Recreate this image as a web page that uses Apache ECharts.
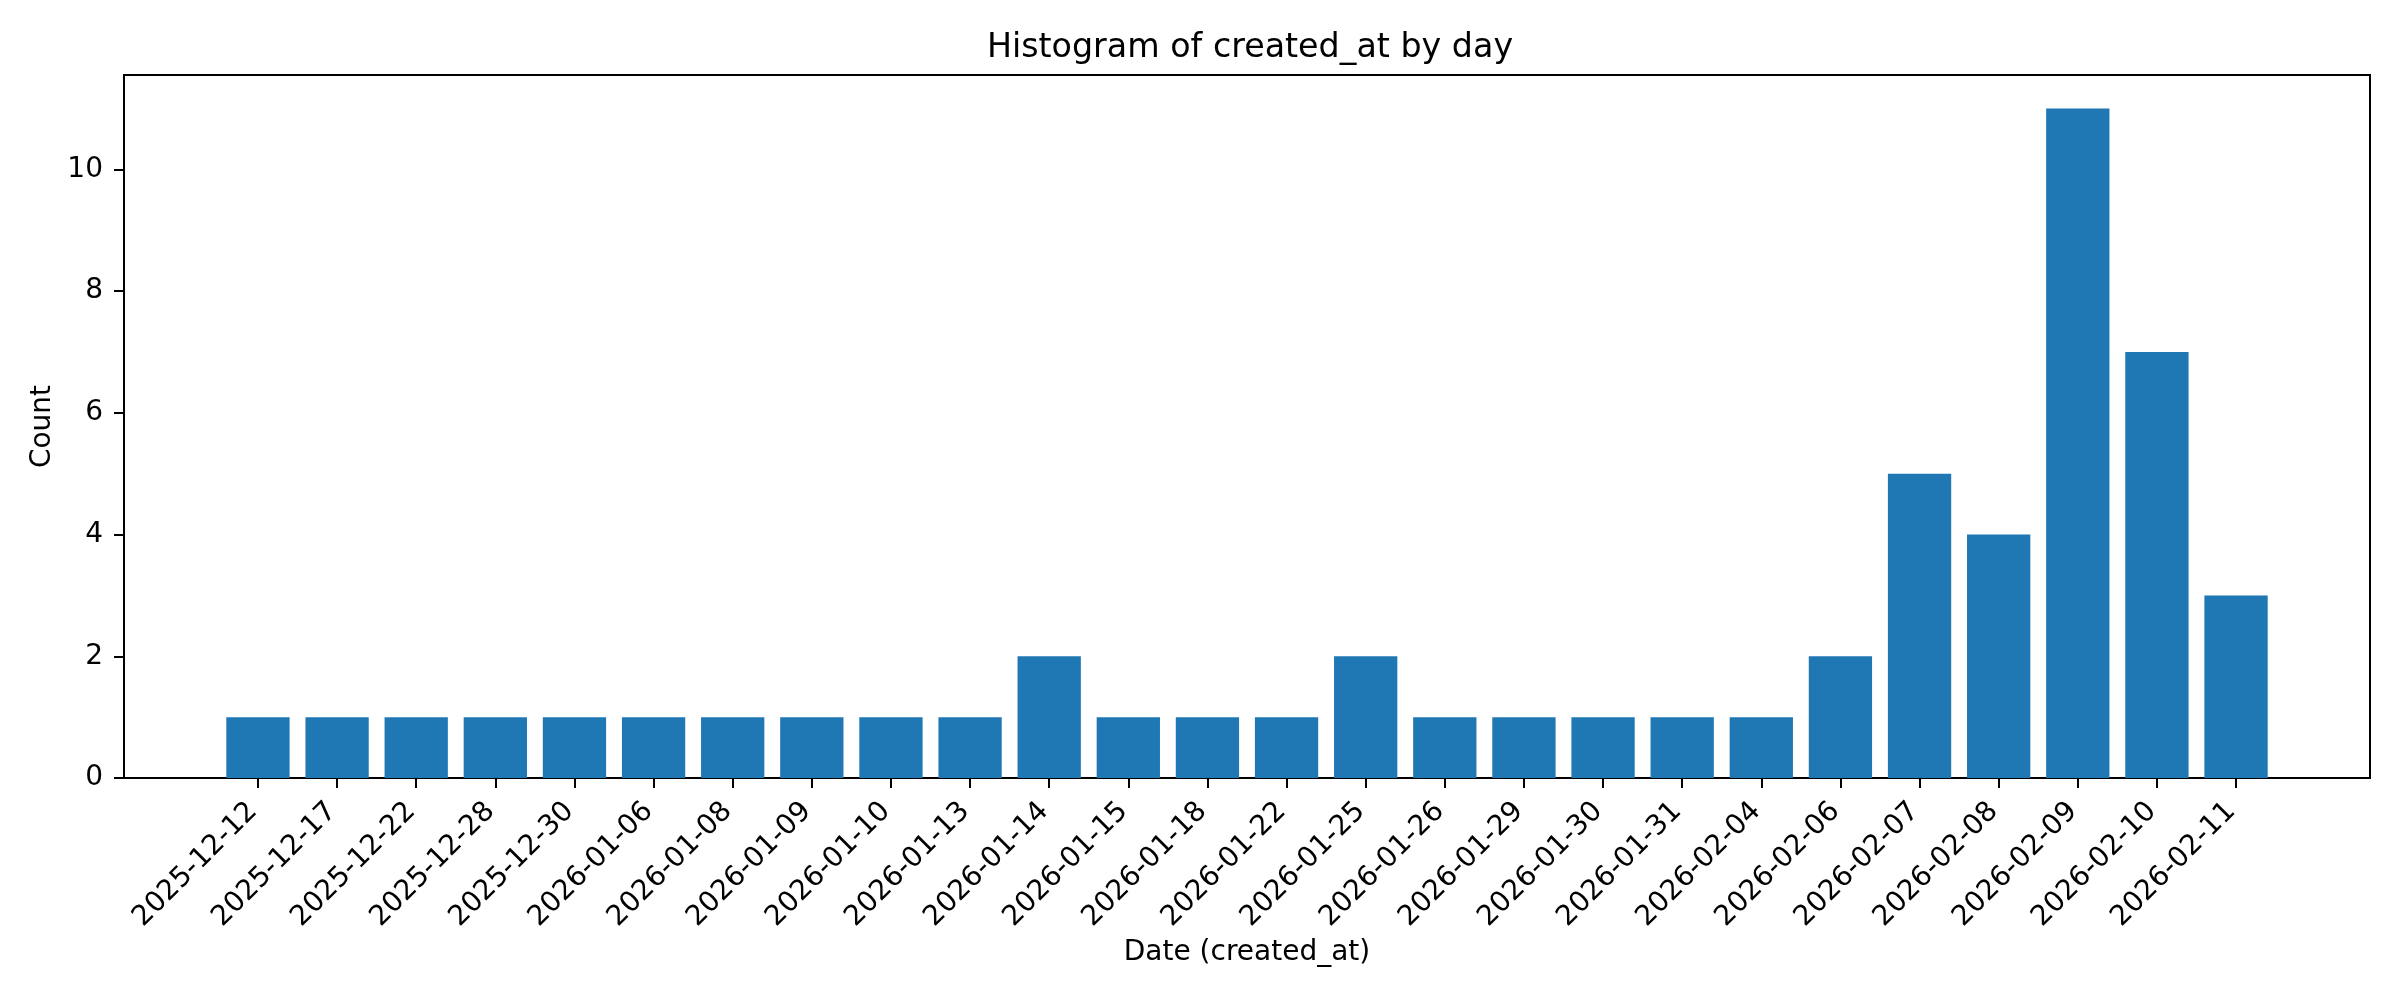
<!DOCTYPE html>
<html>
<head>
<meta charset="utf-8">
<script src="https://cdn.jsdelivr.net/npm/echarts@6/dist/echarts.min.js"></script>
<style>
html,body{margin:0;padding:0;background:#fff;}
#chart{width:2400px;height:1000px;}
</style>
</head>
<body>
<div id="chart"></div>
<script>
const categories = ['2025-12-12','2025-12-17','2025-12-22','2025-12-28','2025-12-30','2026-01-06','2026-01-08','2026-01-09','2026-01-10','2026-01-13','2026-01-14','2026-01-15','2026-01-18','2026-01-22','2026-01-25','2026-01-26','2026-01-29','2026-01-30','2026-01-31','2026-02-04','2026-02-06','2026-02-07','2026-02-08','2026-02-09','2026-02-10','2026-02-11'];
const counts = [1,1,1,1,1,1,1,1,1,1,2,1,1,1,2,1,1,1,1,1,2,5,4,11,7,3];
const yTicks = [0,2,4,6,8,10];
const yMax = 11.55;

const FONT = 'DejaVu Sans';
const chart = echarts.init(document.getElementById('chart'), null, {renderer:'canvas'});
chart.setOption({
  animation: false,
  backgroundColor: '#fff',
  title: {
    text: 'Histogram of created_at by day',
    left: 1245, top: 27, textAlign: 'center',
    textStyle: {fontFamily: FONT, fontSize: 33.3, fontWeight: 'normal', color: '#000'}
  },
  grid: [
    {left: 124, top: 75, width: 2246, height: 703, show: true, borderColor: '#000', borderWidth: 2, backgroundColor: 'transparent', containLabel: false},
    {left: 218.4, top: 75, width: 2057.2, height: 703, containLabel: false}
  ],
  xAxis: [
    {gridIndex: 0, type: 'value', min: 0, max: 1, show: false},
    {gridIndex: 1, type: 'category', data: categories, boundaryGap: true,
     axisLine: {show: false},
     axisTick: {show: true, alignWithLabel: true, length: 10, lineStyle: {color: '#000', width: 2}},
     axisLabel: {rotate: 45, interval: 0, fontFamily: FONT, fontSize: 28, color: '#000', margin: 24, padding: [0, 7, 14, 0]},
     name: 'Date (created_at)', nameLocation: 'middle', nameGap: 160,
     nameTextStyle: {fontFamily: FONT, fontSize: 28, color: '#000'}
    }
  ],
  yAxis: [
    {gridIndex: 0, type: 'value', min: 0, max: yMax, interval: 2,
     axisLine: {show: true, lineStyle: {color: '#000', width: 2}},
     axisTick: {show: true, length: 10, lineStyle: {color: '#000', width: 2}, customValues: yTicks},
     axisLabel: {fontFamily: FONT, fontSize: 28, color: '#000', margin: 21, customValues: yTicks},
     splitLine: {show: false},
     name: 'Count', nameLocation: 'middle', nameGap: 64, nameRotate: 90,
     nameTextStyle: {fontFamily: FONT, fontSize: 28, color: '#000'}
    },
    {gridIndex: 1, type: 'value', min: 0, max: yMax, show: false}
  ],
  series: [{
    type: 'bar', xAxisIndex: 1, yAxisIndex: 1,
    data: counts, barWidth: '80%',
    itemStyle: {color: '#1f77b4'}
  }]
});
</script>
</body>
</html>
